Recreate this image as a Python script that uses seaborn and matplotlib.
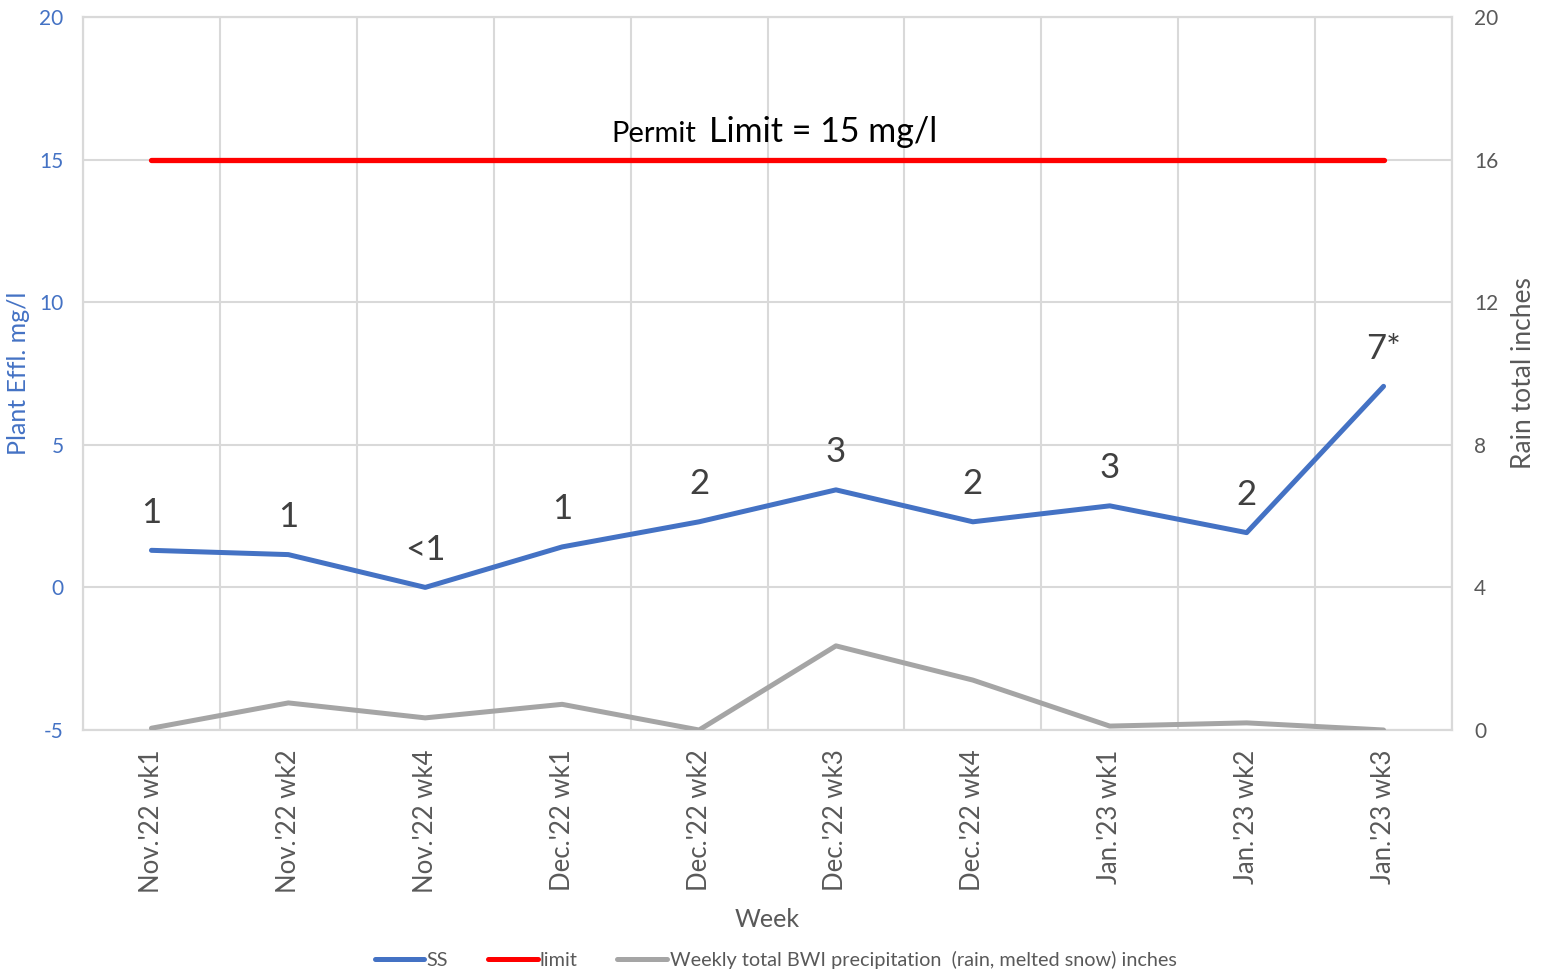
import numpy as np
import pandas as pd
import matplotlib
matplotlib.use("Agg")
import matplotlib.pyplot as plt
import seaborn as sns
from matplotlib.lines import Line2D

# ---- data ----
weeks = ["Nov.'22 wk1", "Nov.'22 wk2", "Nov.'22 wk4", "Dec.'22 wk1", "Dec.'22 wk2",
         "Dec.'22 wk3", "Dec.'22 wk4", "Jan.'23 wk1", "Jan.'23 wk2", "Jan.'23 wk3"]
ss = [1.30, 1.15, 0.0, 1.42, 2.30, 3.42, 2.30, 2.86, 1.92, 7.05]
ss_labels = ["1", "1", "<1", "1", "2", "3", "2", "3", "2", "7*"]
limit = [15] * 10
precip = [0.05, 0.76, 0.34, 0.72, 0.0, 2.36, 1.40, 0.11, 0.20, 0.0]
left_ticks = [-5, 0, 5, 10, 15, 20]
right_ticks = [0, 4, 8, 12, 16, 20]

BLUE = "#4472C4"
RED = "#FF0000"
GRAY = "#A5A5A5"
GRID = "#D9D9D9"
TXT = "#595959"

sns.set_style("white")
plt.rcParams["font.family"] = ["Lato", "DejaVu Sans"]
plt.rcParams["axes.unicode_minus"] = False

df = pd.DataFrame({"week": weeks, "ss": ss, "limit": limit, "precip": precip})

fig = plt.figure(figsize=(15.51, 9.75), dpi=100)
ax = fig.add_axes([83 / 1551, 1 - 730 / 975, (1452 - 83) / 1551, (730 - 17) / 975])
ax2 = ax.twinx()

sns.lineplot(data=df, x="week", y="limit", ax=ax, color=RED, linewidth=3.8,
             solid_capstyle="round", zorder=3)
sns.lineplot(data=df, x="week", y="ss", ax=ax, color=BLUE, linewidth=3.6,
             solid_capstyle="round", zorder=4)
sns.lineplot(data=df, x="week", y="precip", ax=ax2, color=GRAY, linewidth=3.6,
             solid_capstyle="round", zorder=4)

# axes limits / ticks
ax.set_xlim(-0.5, len(weeks) - 0.5)
ax.set_ylim(left_ticks[0], left_ticks[-1])
ax.set_yticks(left_ticks)
ax2.set_ylim(right_ticks[0], right_ticks[-1])
ax2.set_yticks(right_ticks)

ax.set_xticks(range(len(weeks)))
ax.set_xticklabels(weeks, rotation=90, fontsize=18.5, color=TXT)
ax.set_xticks(np.arange(-0.5, len(weeks), 1), minor=True)
ax.tick_params(axis="x", which="both", length=0, pad=14)
ax.tick_params(axis="y", length=0, pad=14, labelsize=15, labelcolor=BLUE)
ax2.tick_params(axis="y", length=0, pad=16, labelsize=15, labelcolor=TXT)

ax.grid(which="minor", axis="x", color=GRID, linewidth=1.5)
ax.grid(which="major", axis="y", color=GRID, linewidth=1.5)
ax.grid(which="major", axis="x", visible=False)
ax2.grid(False)
for a in (ax, ax2):
    for s in a.spines.values():
        s.set_color(GRID)
        s.set_linewidth(1.5)

ax.set_xlabel("Week", fontsize=18, color=TXT, labelpad=11)
ax.set_ylabel("Plant Effl. mg/l", fontsize=18, color=BLUE)
ax2.set_ylabel("Rain total inches", fontsize=19, color=TXT)
ax.yaxis.set_label_coords(-0.0385, 0.5)
ax2.yaxis.set_label_coords(1.0432, 0.5)

# data labels
for i, (v, lab) in enumerate(zip(ss, ss_labels)):
    ax.annotate(lab, (i, v), xytext=(0, 27), textcoords="offset points",
                ha="center", va="center", fontsize=25, color="#404040")

# permit text
fig.text(611 / 1551, 1 - 142 / 975, "Permit", fontsize=21, color="black", ha="left", va="baseline")
fig.text(709 / 1551, 1 - 142 / 975, "Limit = 15 mg/l", fontsize=24.5, color="black", ha="left", va="baseline")

handles = [Line2D([], [], color=BLUE, lw=3.6),
           Line2D([], [], color=RED, lw=3.6),
           Line2D([], [], color=GRAY, lw=3.6)]
labels = ["SS", "limit", "Weekly total BWI precipitation  (rain, melted snow) inches"]
fig.legend(handles, labels, loc="center", bbox_to_anchor=(0.500, 1 - 960 / 975), ncol=3,
           frameon=False, fontsize=14.3, handlelength=2.5, handletextpad=0.12,
           columnspacing=2.0, labelcolor=TXT)

fig.savefig("out.png", dpi=100)
